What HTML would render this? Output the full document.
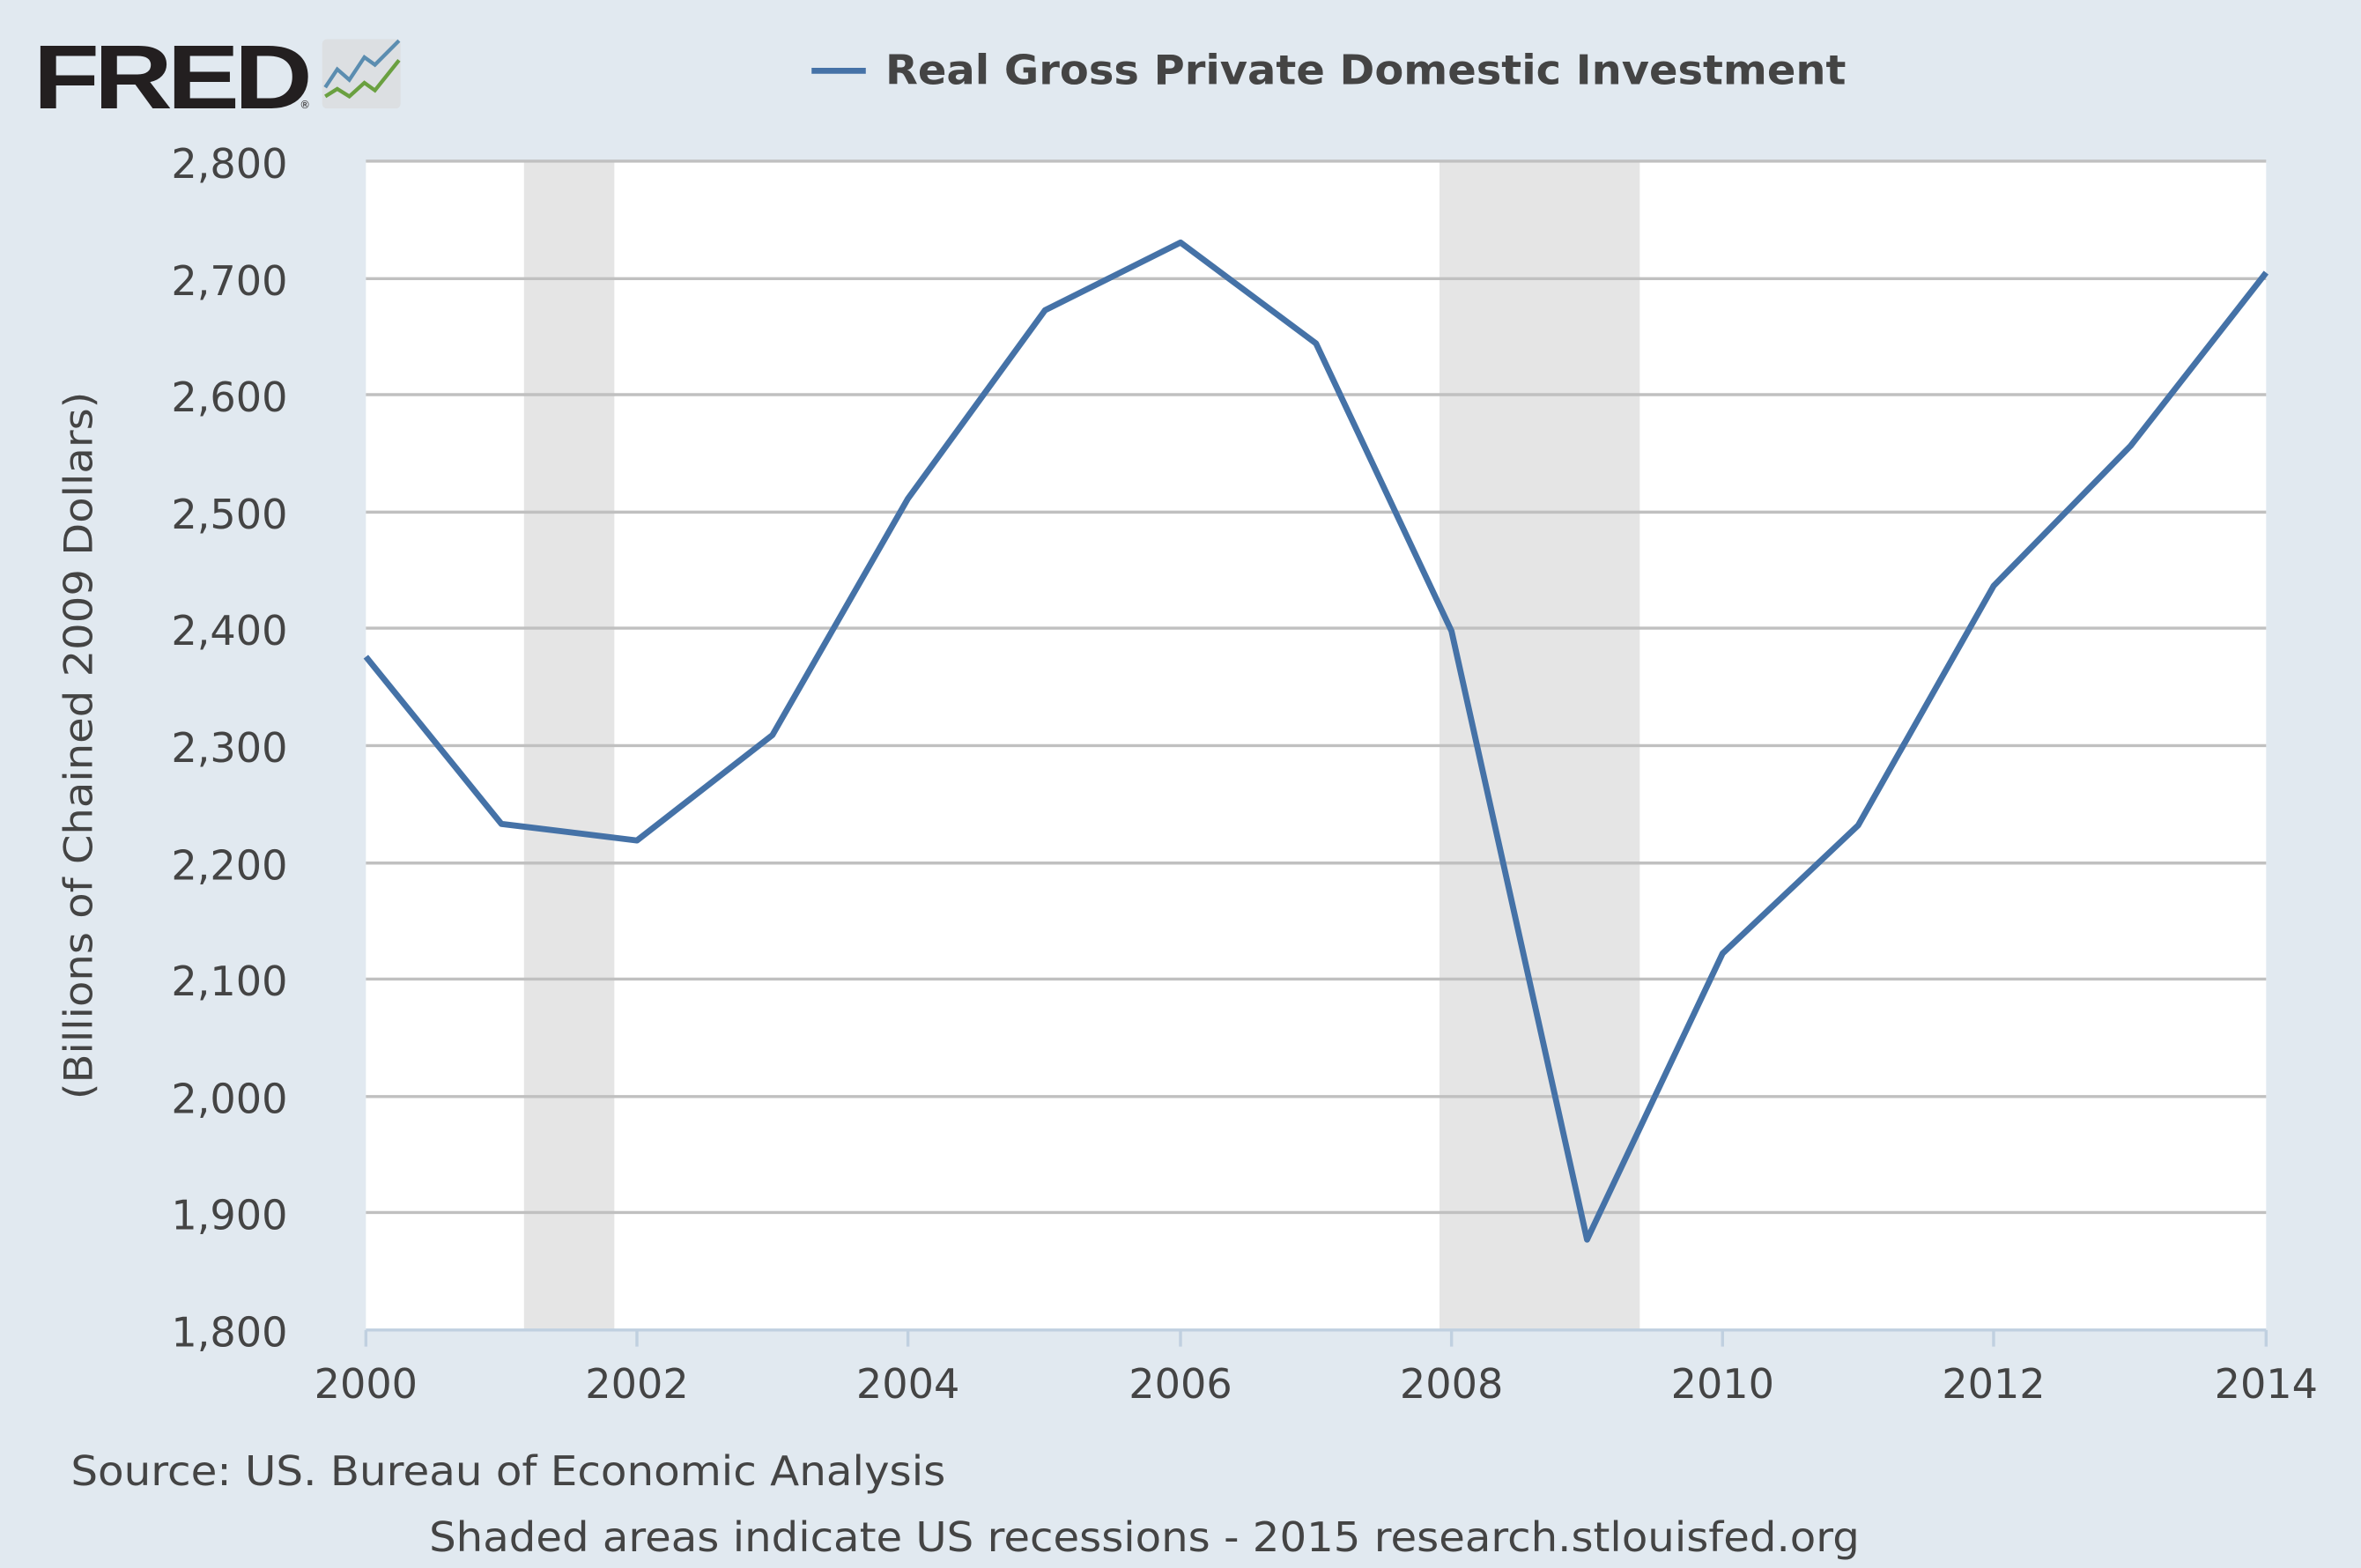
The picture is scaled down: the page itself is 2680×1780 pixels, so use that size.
<!DOCTYPE html>
<html><head><meta charset="utf-8"><style>
html,body{margin:0;padding:0;background:#e1e9f0;}
svg{display:block;}
text{font-family:"DejaVu Sans","Liberation Sans",sans-serif;fill:#444;}
</style></head><body>
<svg width="2680" height="1780" viewBox="0 0 1568 1041" preserveAspectRatio="none" xmlns="http://www.w3.org/2000/svg">
<rect width="1568" height="1041" fill="#e1e9f0"/>
<!-- logo -->
<text x="22" y="72" style="font-family:'Liberation Sans',sans-serif;font-weight:900;font-size:60px;fill:#231f20;letter-spacing:-3px" textLength="182" lengthAdjust="spacingAndGlyphs">FRED</text>
<text x="199" y="72" style="font-size:7px;fill:#231f20">®</text>
<rect x="214" y="26" width="52" height="46" rx="3" fill="#dcdfe2"/>
<polyline points="216,58 224,46 232,53 242,38 249,43 265,27" fill="none" stroke="#5b8db0" stroke-width="2.5"/>
<polyline points="216,64 224,59 232,64 242,55 249,60 265,40" fill="none" stroke="#6aa040" stroke-width="2.5"/>
<!-- legend -->
<line x1="539" y1="47" x2="575" y2="47" stroke="#4572a7" stroke-width="4"/>
<text x="588" y="56" style="font-weight:bold;font-size:27px;fill:#444" textLength="638" lengthAdjust="spacingAndGlyphs">Real Gross Private Domestic Investment</text>
<!-- plot -->
<rect x="243" y="107" width="1262" height="776" fill="#fff"/>
<rect x="348" y="107" width="60" height="776" fill="#e5e5e5"/>
<rect x="956" y="107" width="133" height="776" fill="#e5e5e5"/>
<g stroke="#c0c0c0" stroke-width="2">
<line x1="243" x2="1505" y1="107" y2="107"/><line x1="243" x2="1505" y1="185" y2="185"/>
<line x1="243" x2="1505" y1="262" y2="262"/><line x1="243" x2="1505" y1="340" y2="340"/>
<line x1="243" x2="1505" y1="417" y2="417"/><line x1="243" x2="1505" y1="495" y2="495"/>
<line x1="243" x2="1505" y1="573" y2="573"/><line x1="243" x2="1505" y1="650" y2="650"/>
<line x1="243" x2="1505" y1="728" y2="728"/><line x1="243" x2="1505" y1="805" y2="805"/>
</g>
<g stroke="#c0d0e0" stroke-width="2">
<line x1="243" x2="1505" y1="883" y2="883"/>
<line x1="243" x2="243" y1="883" y2="894"/><line x1="423" x2="423" y1="883" y2="894"/>
<line x1="603" x2="603" y1="883" y2="894"/><line x1="784" x2="784" y1="883" y2="894"/>
<line x1="964" x2="964" y1="883" y2="894"/><line x1="1144" x2="1144" y1="883" y2="894"/>
<line x1="1324" x2="1324" y1="883" y2="894"/><line x1="1505" x2="1505" y1="883" y2="894"/>
</g>
<polyline points="243,436 333,547 423,558 513,488 603,331 694,206 784,161 874,228 964,419 1054,823 1144,633 1234,548 1324,389 1415,296 1505,181" fill="none" stroke="#4572a7" stroke-width="4" stroke-linejoin="round"/>
<!-- y labels -->
<g style="font-size:27px" text-anchor="end">
<text x="191" y="118">2,800</text><text x="191" y="196">2,700</text>
<text x="191" y="273">2,600</text><text x="191" y="351">2,500</text>
<text x="191" y="428">2,400</text><text x="191" y="506">2,300</text>
<text x="191" y="584">2,200</text><text x="191" y="661">2,100</text>
<text x="191" y="739">2,000</text><text x="191" y="816">1,900</text>
<text x="191" y="894">1,800</text>
</g>
<text transform="translate(61,495) rotate(-90)" text-anchor="middle" style="font-size:26px" textLength="470" lengthAdjust="spacingAndGlyphs">(Billions of Chained 2009 Dollars)</text>
<g style="font-size:27px" text-anchor="middle">
<text x="243" y="928">2000</text><text x="423" y="928">2002</text>
<text x="603" y="928">2004</text><text x="784" y="928">2006</text>
<text x="964" y="928">2008</text><text x="1144" y="928">2010</text>
<text x="1324" y="928">2012</text><text x="1505" y="928">2014</text>
</g>
<text x="47" y="986" style="font-size:27px" textLength="581" lengthAdjust="spacingAndGlyphs">Source: US. Bureau of Economic Analysis</text>
<text x="285" y="1030" style="font-size:27px" textLength="950" lengthAdjust="spacingAndGlyphs">Shaded areas indicate US recessions - 2015 research.stlouisfed.org</text>
</svg>
</body></html>
